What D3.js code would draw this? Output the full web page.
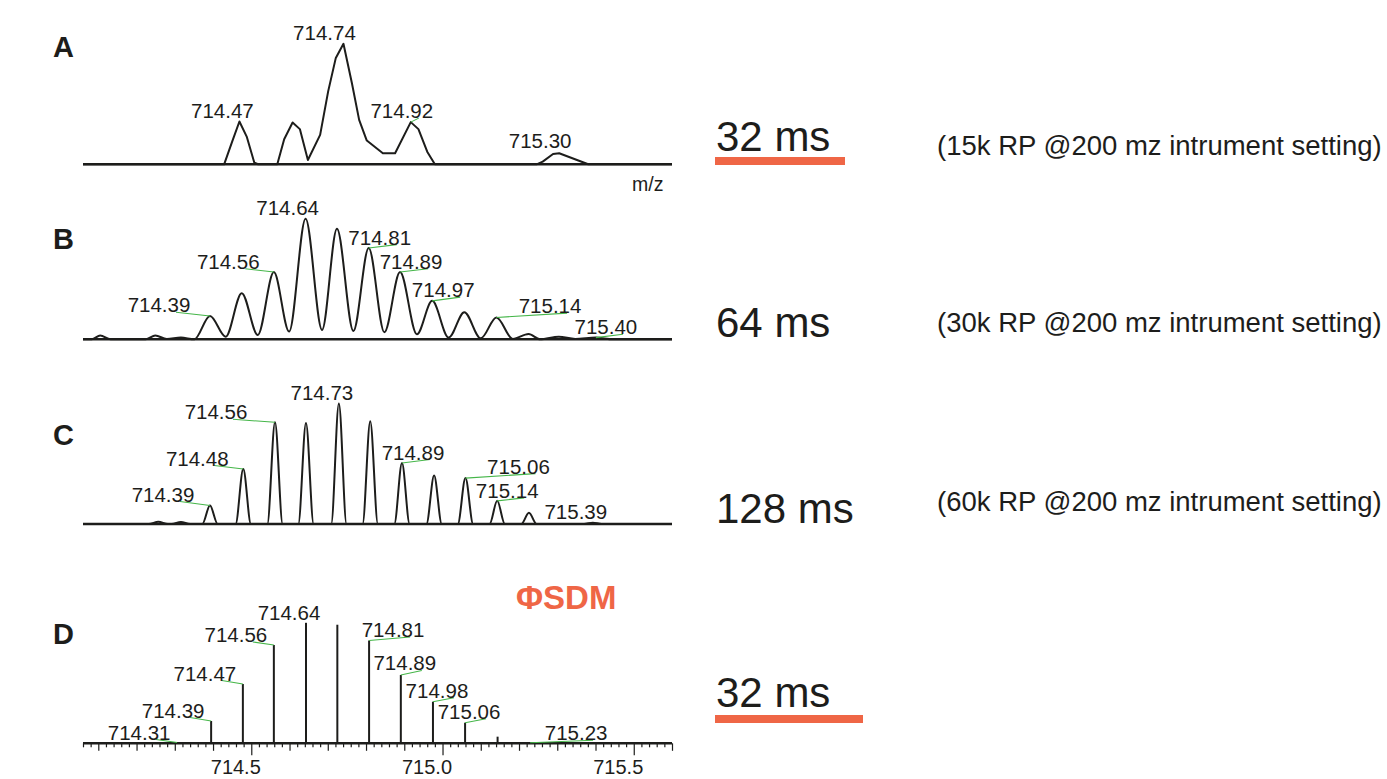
<!DOCTYPE html>
<html><head><meta charset="utf-8">
<script src="https://cdn.jsdelivr.net/npm/d3@7"></script>
<style>
html,body{margin:0;padding:0;background:#fff;}
svg{display:block;font-family:"Liberation Sans",Arial,Helvetica,sans-serif;}
</style></head><body>
<svg id="fig" width="1387" height="779"></svg>
<script>
// ---- shared m/z window ----
const mzDomain = [714.06, 715.60];

// ---- A: 32 ms transient, FT profile (vertices of the trace) ----
const profileMzA  = [714.06, 714.429, 714.450, 714.469, 714.488, 714.508, 714.518, 714.568, 714.586, 714.608, 714.627, 714.648, 714.680, 714.701, 714.721, 714.741, 714.763, 714.782, 714.802, 714.844, 714.876, 714.917, 714.937, 714.960, 714.980, 715.246, 715.262, 715.289, 715.305, 715.381, 715.60];
const profileIntA = [0, 0, 18.8, 35.5, 23.0, 1.3, 0, 0, 20.8, 34.7, 29.2, 3.6, 24.4, 60.5, 88.3, 100, 67.5, 36.9, 19.7, 9.2, 9.2, 35.0, 29.2, 10.5, 0, 0, 2.2, 8.6, 9.2, 0, 0];
const labelMzA  = [714.469, 714.741, 714.917, 715.305];
const labelIntA = [35.5, 100, 35.0, 9.2];
const labelTxtA = ["714.47", "714.74", "714.92", "715.30"];

// ---- B: 64 ms transient ----
const profileMzB  = [714.06, 714.083, 714.105, 714.132, 714.224, 714.249, 714.279, 714.316, 714.351, 714.392, 714.433, 714.475, 714.517, 714.559, 714.599, 714.642, 714.685, 714.724, 714.767, 714.807, 714.848, 714.889, 714.933, 714.973, 715.016, 715.057, 715.100, 715.141, 715.184, 715.225, 715.255, 715.304, 715.347, 715.401, 715.446, 715.60];
const profileIntB = [0, 0, 3.1, 0, 0, 3.1, 0.3, 1.4, 0, 19.4, 2.2, 38.3, 3.6, 55.8, 6.4, 100, 7.8, 91.7, 6.9, 75.8, 5.8, 55.8, 4.2, 31.9, 1.4, 22.5, 0.8, 18.1, 0.3, 4.4, 0, 2.2, 0.3, 1.4, 0, 0];
const labelMzB  = [714.392, 714.559, 714.642, 714.807, 714.889, 714.973, 715.141, 715.401];
const labelIntB = [19.4, 55.8, 100, 75.8, 55.8, 31.9, 18.1, 1.4];
const labelTxtB = ["714.39", "714.56", "714.64", "714.81", "714.89", "714.97", "715.14", "715.40"];

// ---- C: 128 ms transient ----
const profileMzC  = [714.06, 714.232, 714.257, 714.282, 714.292, 714.316, 714.340, 714.372, 714.392, 714.412, 714.459, 714.479, 714.499, 714.542, 714.562, 714.582, 714.623, 714.643, 714.663, 714.709, 714.729, 714.749, 714.791, 714.811, 714.831, 714.874, 714.894, 714.914, 714.958, 714.978, 714.998, 715.040, 715.060, 715.080, 715.123, 715.143, 715.163, 715.206, 715.226, 715.246, 715.370, 715.393, 715.416, 715.60];
const profileIntC = [0, 0, 1.9, 0, 0, 1.7, 0, 0, 15.3, 0, 0, 45.6, 0, 0, 84.4, 0, 0, 83.9, 0, 0, 100, 0, 0, 85.3, 0, 0, 50.6, 0, 0, 40.3, 0, 0, 38.1, 0, 0, 19.2, 0, 0, 9.4, 0, 0, 1.1, 0, 0];
const labelMzC  = [714.392, 714.479, 714.562, 714.729, 714.894, 715.060, 715.143, 715.393];
const labelIntC = [15.3, 45.6, 84.4, 100, 50.6, 38.1, 19.2, 1.1];
const labelTxtC = ["714.39", "714.48", "714.56", "714.73", "714.89", "715.06", "715.14", "715.39"];

// ---- D: ΦSDM, 32 ms, centroid sticks ----
const stickMzD  = [714.306, 714.395, 714.478, 714.559, 714.643, 714.725, 714.808, 714.891, 714.975, 715.059, 715.144, 715.229];
const stickIntD = [0.6, 18.5, 49.2, 81.6, 100, 98.4, 85.3, 56.7, 34.5, 17.1, 5.5, 0.5];
const labelTxtD = ["714.31", "714.39", "714.47", "714.56", "714.64", null, "714.81", "714.89", "714.98", "715.06", null, "715.23"];

// ---- D axis ----
const majorTicks = [714.5, 715.0, 715.5];
const majorTickLabels = ["714.5", "715.0", "715.5"];

// ---- right-hand annotations ----
const timeLabels = ["32 ms", "64 ms", "128 ms", "32 ms"];
const settingLabels = ["(15k RP @200 mz intrument setting)", "(30k RP @200 mz intrument setting)", "(60k RP @200 mz intrument setting)", null];
const panelLetters = ["A", "B", "C", "D"];

// ---------------- layout ----------------
const ink = "#1d1d1b", leaderColor = "#45b649", accent = "#ef6646";
const plotLeft = 83, plotRight = 672, peakHeight = 120.5;
const textShift = -17;      // label text sits left of its anchor point
const panelLayout = [
  {base: 164.3, letterY: 57,  timeY: 151, setY: 155, bar: [715, 845, 157, 8]},
  {base: 339.3, letterY: 249, timeY: 337, setY: 332},
  {base: 524,   letterY: 445, timeY: 523, setY: 511},
  {base: 743.3, letterY: 644, timeY: 707, setY: 0, bar: [715, 863, 715, 8]}
];
// anchor offsets (px) of each peak label relative to its peak top
const labelOffsA = [[0,-3.5],[-2,-3.5],[8,-4],[-2,-5]];
const labelOffsB = [[-34,-3.7],[-28.6,-3.3],[-1,-4.3],[28,-3.3],[28,-3.3],[28,-3.7],[70.6,-4.4],[27,-3.4]];
const labelOffsC = [[-30,-4],[-29,-3.5],[-42,-3],[0,-4],[28,-3.5],[70,-4.5],[27,-3],[0,-4]];
const labelOffsD = [[-21,-3],[-21,-3.5],[-21,-3.5],[-21,-3],[0,-3],null,[41,-3.5],[21,-4.5],[21,-4],[21,-4],null,[63,-2.5]];

const svg = d3.select("#fig");
const x = d3.scaleLinear().domain(mzDomain).range([plotLeft, plotRight]);
const yFor = base => d3.scaleLinear().domain([0, 100]).range([base, base - peakHeight]);

function drawLabels(g, y, mzs, ints, txts, offs) {
  mzs.forEach((mz, i) => {
    if (!txts[i]) return;
    const px = x(mz), py = y(ints[i]);
    const ax = px + offs[i][0], ay = py + offs[i][1];
    if (Math.abs(offs[i][0]) > 2) {
      g.append("line").attr("x1", px).attr("y1", py).attr("x2", ax).attr("y2", ay)
        .attr("stroke", leaderColor).attr("stroke-width", 1.1);
    }
    g.append("text").attr("x", ax + textShift).attr("y", ay)
      .attr("text-anchor", "middle").attr("font-size", 20.5).attr("fill", ink)
      .text(txts[i]);
  });
}

function drawBaseline(g, base) {
  g.append("line").attr("x1", plotLeft).attr("x2", plotRight)
    .attr("y1", base).attr("y2", base).attr("stroke", ink).attr("stroke-width", 2.6);
}

// profile panels A-C
const profiles = [
  {mz: profileMzA, it: profileIntA, curve: d3.curveLinear, lm: labelMzA, li: labelIntA, lt: labelTxtA, lo: labelOffsA},
  {mz: profileMzB, it: profileIntB, curve: d3.curveMonotoneX, lm: labelMzB, li: labelIntB, lt: labelTxtB, lo: labelOffsB},
  {mz: profileMzC, it: profileIntC, curve: d3.curveMonotoneX, lm: labelMzC, li: labelIntC, lt: labelTxtC, lo: labelOffsC}
];
profiles.forEach((p, k) => {
  const L = panelLayout[k];
  const y = yFor(L.base);
  const g = svg.append("g");
  drawBaseline(g, L.base);
  const line = d3.line().x(i => x(p.mz[i])).y(i => y(p.it[i])).curve(p.curve);
  g.append("path").attr("d", line(d3.range(p.mz.length)))
    .attr("fill", "none").attr("stroke", ink).attr("stroke-width", 2).attr("stroke-linejoin", "round");
  drawLabels(g, y, p.lm, p.li, p.lt, p.lo);
});

// m/z caption under A
svg.append("text").attr("x", 632).attr("y", 191).attr("font-size", 19.5).attr("fill", ink).text("m/z");

// panel D: sticks + axis
(function () {
  const L = panelLayout[3];
  const y = yFor(L.base);
  const g = svg.append("g");
  const all = d3.range(0, 78).map(i => +(714.06 + i * 0.02).toFixed(2));
  const tenth = all.filter(v => Math.abs(v * 10 - Math.round(v * 10)) < 1e-6 && !majorTicks.includes(v));
  const minor = all.filter(v => !tenth.includes(v) && !majorTicks.includes(v));
  const mk = (vals, size) => {
    const a = g.append("g").attr("transform", `translate(0,${L.base})`)
      .call(d3.axisBottom(x).tickValues(vals).tickSize(size).tickSizeOuter(0).tickFormat(""));
    a.select(".domain").remove();
    a.selectAll("line").attr("stroke", ink).attr("stroke-width", 1.2);
  };
  mk(minor, 4);
  mk(tenth, 7.5);
  const major = g.append("g").attr("transform", `translate(0,${L.base})`)
    .call(d3.axisBottom(x).tickValues(majorTicks).tickSize(12).tickSizeOuter(0)
      .tickFormat((d, i) => majorTickLabels[i]));
  major.select(".domain").remove();
  major.selectAll("line").attr("stroke", ink).attr("stroke-width", 1.2);
  major.selectAll("text").attr("x", -16).attr("y", 17).attr("dy", "0.71em")
    .attr("font-size", 20).attr("fill", ink).attr("font-family", null);
  drawBaseline(g, L.base);
  g.selectAll("line.stick").data(stickMzD).join("line").attr("class", "stick")
    .attr("x1", d => x(d)).attr("x2", d => x(d))
    .attr("y1", L.base).attr("y2", (d, i) => y(stickIntD[i]))
    .attr("stroke", ink).attr("stroke-width", 2);
  drawLabels(g, y, stickMzD, stickIntD, labelTxtD, labelOffsD.map(o => o || [0, 0]));
  svg.append("text").attr("x", 516).attr("y", 609).attr("font-size", 33).attr("font-weight", "bold")
    .attr("fill", accent).text("ΦSDM");
})();

// panel letters, transient lengths, instrument settings
panelLayout.forEach((L, k) => {
  svg.append("text").attr("x", 53).attr("y", L.letterY).attr("font-size", 29)
    .attr("font-weight", "bold").attr("fill", ink).text(panelLetters[k]);
  svg.append("text").attr("x", 716).attr("y", L.timeY).attr("font-size", 42)
    .attr("fill", ink).text(timeLabels[k]);
  if (settingLabels[k]) {
    svg.append("text").attr("x", 937).attr("y", L.setY).attr("font-size", 27.5)
      .attr("fill", ink).text(settingLabels[k]);
  }
  if (L.bar) {
    svg.append("rect").attr("x", L.bar[0]).attr("width", L.bar[1] - L.bar[0])
      .attr("y", L.bar[2]).attr("height", L.bar[3]).attr("fill", accent);
  }
});
</script>
</body></html>
